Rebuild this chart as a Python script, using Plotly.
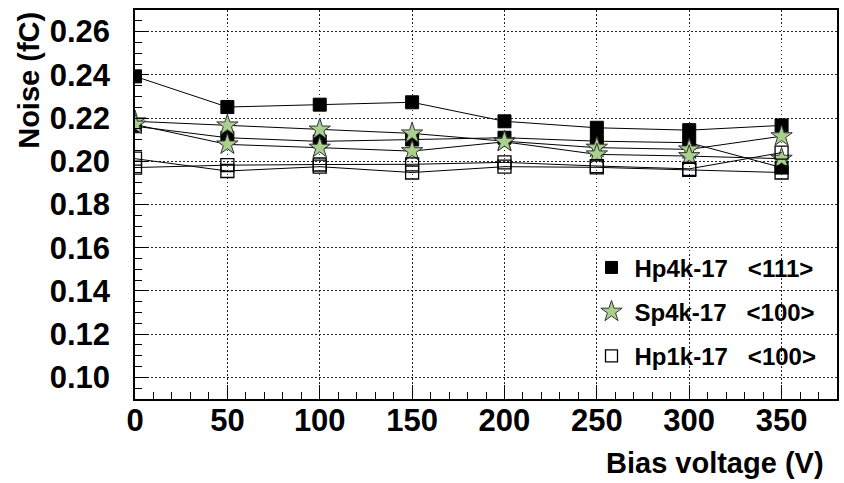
import plotly.graph_objects as go

bias = [0, 50, 100, 150, 200, 250, 300, 350]

hp4k_a = [0.2393, 0.2251, 0.2262, 0.2273, 0.2185, 0.2155, 0.2144, 0.2166]
hp4k_b = [0.2162, 0.2109, 0.2092, 0.2101, 0.2109, 0.2093, 0.2086, 0.1971]
sp4k_a = [0.2185, 0.2166, 0.2147, 0.2129, 0.2093, 0.2063, 0.2055, 0.2116]
sp4k_b = [0.2170, 0.2078, 0.2063, 0.2047, 0.2090, 0.2032, 0.2024, 0.2012]
hp1k_a = [0.2012, 0.1955, 0.1975, 0.1948, 0.1975, 0.1972, 0.1960, 0.1948]
hp1k_b = [0.1971, 0.1982, 0.1985, 0.1986, 0.1995, 0.1978, 0.1965, 0.2040]

legend_labels = ["Hp4k-17&nbsp;&nbsp;&nbsp;&lt;111&gt;",
                 "Sp4k-17&nbsp;&nbsp;&nbsp;&lt;100&gt;",
                 "Hp1k-17&nbsp;&nbsp;&nbsp;&lt;100&gt;"]

x_ticks = [0, 50, 100, 150, 200, 250, 300, 350]
y_ticks = [0.10, 0.12, 0.14, 0.16, 0.18, 0.20, 0.22, 0.24, 0.26]

FONT = "Liberation Sans, Arial, sans-serif"
STAR_FILL = "#a9d08c"

styles = [
    dict(symbol="square", color="black", size=13, line=dict(color="black", width=1)),
    dict(symbol="star", color=STAR_FILL, size=16, line=dict(color="#333333", width=1)),
    dict(symbol="square-open", color="black", size=13, line=dict(color="black", width=1.3)),
]

fig = go.Figure()

series = [(hp4k_a, 0), (hp4k_b, 0), (sp4k_a, 1), (sp4k_b, 1), (hp1k_a, 2), (hp1k_b, 2)]
for vals, k in series:
    fig.add_trace(go.Scatter(
        x=bias, y=vals, mode="lines+markers",
        line=dict(color="black", width=1),
        marker=styles[k], showlegend=False, hoverinfo="skip"))

# legend-only entries (marker only, like the reference)
leg_sizes = [12, 17, 12]
for k, lab in enumerate(legend_labels):
    m = dict(styles[k])
    m["size"] = leg_sizes[k]
    fig.add_trace(go.Scatter(
        x=[None], y=[None], mode="markers", marker=m, name=lab,
        showlegend=True, legendgroup=str(k)))

axis_common = dict(
    showline=True, linecolor="black", linewidth=1.5, mirror=True,
    ticks="inside", tickcolor="black", ticklen=14, tickwidth=1,
    showgrid=True, gridcolor="#222222", griddash="1.5px,2.5px", gridwidth=1,
    zeroline=False,
    tickfont=dict(family=FONT, size=31, color="black", weight="bold"),
)

fig.update_xaxes(
    range=[0, 380], tickmode="array", tickvals=x_ticks,
    ticktext=[str(v) for v in x_ticks],
    minor=dict(dtick=10, tick0=0, ticks="inside", ticklen=7, tickcolor="black", showgrid=False),
    ticklabelstandoff=-7,
    **axis_common)
fig.update_yaxes(
    range=[0.09, 0.27], tickmode="array", tickvals=y_ticks,
    ticktext=["%.2f" % v for v in y_ticks],
    minor=dict(dtick=0.005, tick0=0.09, ticks="inside", ticklen=7, tickcolor="black", showgrid=False),
    ticklabelstandoff=17,
    **axis_common)

fig.update_layout(
    width=844, height=483,
    margin=dict(l=135, r=5, t=10, b=84),
    paper_bgcolor="white", plot_bgcolor="white",
    font=dict(family=FONT, color="black"),
    showlegend=True,
    legend=dict(
        x=0.646, y=0.395, xanchor="left", yanchor="top",
        bgcolor="rgba(0,0,0,0)", borderwidth=0,
        font=dict(family=FONT, size=24, color="black", weight="bold"),
        tracegroupgap=10, traceorder="grouped", itemsizing="trace",
        itemwidth=36,
    ),
    annotations=[
        dict(text="<b>Bias voltage (V)</b>", xref="paper", yref="paper",
             x=0.984, y=-0.164, xanchor="right", yanchor="middle", showarrow=False,
             font=dict(family=FONT, size=29, color="black")),
        dict(text="<b>Noise (fC)</b>", xref="paper", yref="paper",
             x=-0.152, y=1.0, xanchor="center", yanchor="top", textangle=-90,
             showarrow=False, font=dict(family=FONT, size=29, color="black")),
    ],
)

fig.write_html("out.html", config={"displayModeBar": False},
               post_script="document.body.style.margin='0';")
